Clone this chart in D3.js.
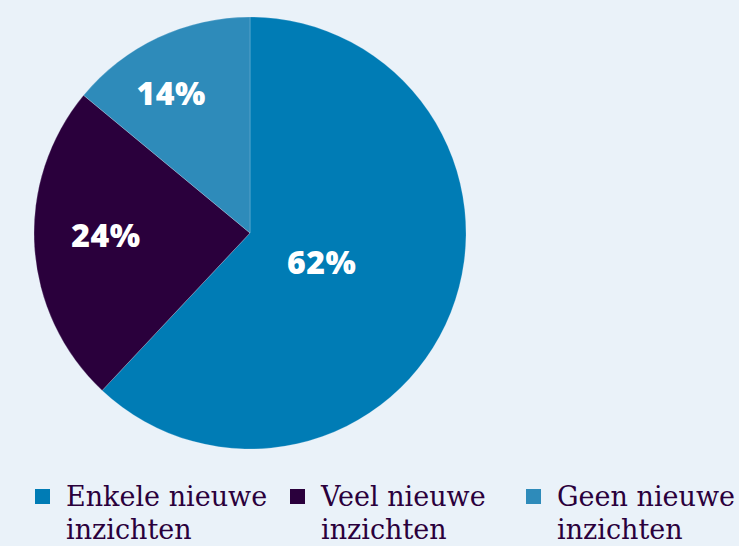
<!DOCTYPE html>
<html>
<head>
<meta charset="utf-8">
<script src="https://cdn.jsdelivr.net/npm/d3@7"></script>
<style>
  html, body { margin: 0; padding: 0; background: #eaf2f9; }
  svg { display: block; }
  .pct { font-family: "Open Sans", "Noto Sans", sans-serif; font-weight: 800; fill: #fff; }
  .legend text { font-family: "DejaVu Serif", serif; fill: #2a003c; }
</style>
</head>
<body>
<div id="chart"></div>
<script>
// data
const categories = ["Enkele nieuwe inzichten", "Veel nieuwe inzichten", "Geen nieuwe inzichten"];
const legendLines = [["Enkele nieuwe", "inzichten"], ["Veel nieuwe", "inzichten"], ["Geen nieuwe", "inzichten"]];
const values = [62, 24, 14];
const colors = ["#007cb5", "#2a003c", "#2e8bba"];

const width = 739, height = 546;
const cx = 250, cy = 233, radius = 216;
// label placement: fraction of radius, and nudge of the angle (degrees)
const labelRadius = [0.36, 0.667, 0.744];
const labelShift = [1, 2.8, -4.2];

const svg = d3.select("#chart").append("svg")
    .attr("width", width)
    .attr("height", height);

svg.append("rect").attr("width", width).attr("height", height).attr("fill", "#eaf2f9");

const pie = d3.pie().sort(null).value(d => d);
const arcs = pie(values);
const arc = d3.arc().innerRadius(0).outerRadius(radius);

const g = svg.append("g").attr("transform", `translate(${cx},${cy})`);

g.selectAll("path")
    .data(arcs)
    .enter().append("path")
    .attr("d", arc)
    .attr("fill", (d, i) => colors[i])
    .attr("stroke", "#eaf2f9")
    .attr("stroke-opacity", 0.35)
    .attr("stroke-width", 0.6);

g.selectAll("text.pct")
    .data(arcs)
    .enter().append("text")
    .attr("class", "pct")
    .attr("transform", (d, i) => {
        const a = (d.startAngle + d.endAngle) / 2 + labelShift[i] * Math.PI / 180;
        const r = radius * labelRadius[i];
        return `translate(${r * Math.sin(a)},${-r * Math.cos(a)})`;
    })
    .attr("text-anchor", "middle")
    .attr("dy", "0.36em")
    .style("font-size", "32px")
    .style("letter-spacing", "0.5px")
    .text(d => d.data + "%");

// legend
const legendX = [35, 290, 526];
const legend = svg.append("g").attr("class", "legend");
const items = legend.selectAll("g")
    .data(categories)
    .enter().append("g")
    .attr("transform", (d, i) => `translate(${legendX[i]},489)`);

items.append("rect")
    .attr("width", 15).attr("height", 15)
    .attr("fill", (d, i) => colors[i]);

items.append("text")
    .attr("x", 31)
    .attr("y", 17)
    .style("font-size", "27px")
    .selectAll("tspan")
    .data((d, i) => legendLines[i])
    .enter().append("tspan")
    .attr("x", 31)
    .attr("dy", (d, j) => j === 0 ? 0 : 33)
    .text(d => d);
</script>
</body>
</html>
